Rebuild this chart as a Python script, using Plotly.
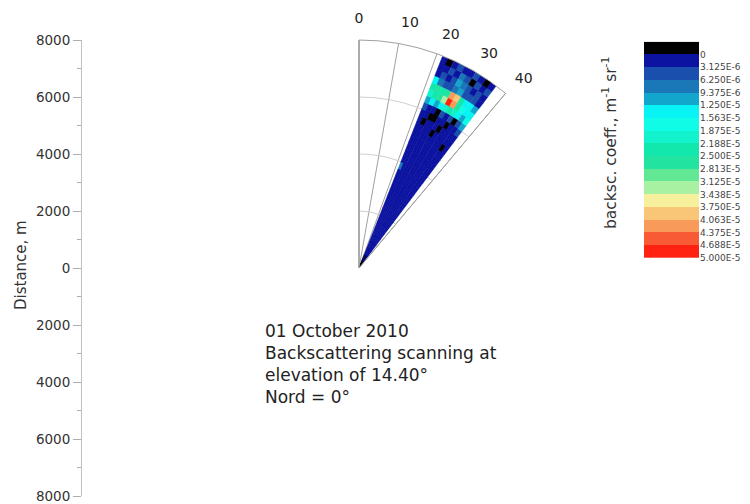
import plotly.graph_objects as go

# the page body adds an 8px margin; the figure is sized so that it fills the window
PAGE_W, PAGE_H, OFF = 750, 504, 8
W, H = PAGE_W - OFF, PAGE_H - OFF

# ---------------- data ----------------
# azimuth (deg, North = 0, clockwise) of the scan beams and their angular width
AZIMUTHS = [22.3, 23.8, 25.4, 26.9, 28.5, 30.0, 31.6, 33.1, 34.7, 36.2]
BEAM_WIDTH = 1.55
# range gates (m): start of each gate, gate length
GATE_LEN = 250
GATE_STARTS = [i * GATE_LEN for i in range(32)]

# backscattering coefficient, units of 1e-6 m^-1 sr^-1 ; rows = range gates, cols = azimuths
BACKSC = [
    [-1, -1, -1, -1, -1, -1, -1, -1, -1, -1],
    [-1, 1.5, -1, 1.5, -1, 1.5, -1, 1.5, -1, 1.5],
    [1.5, 1.5, 1.5, 1.5, 1.5, 1.5, 1.5, 1.5, 1.5, 1.5],
    [1.5, 1.5, 1.5, 1.5, 1.5, 1.5, 1.5, 1.5, 1.5, 1.5],
    [1.5, 1.5, 1.5, 1.5, 1.5, 1.5, 1.5, 1.5, 1.5, 1.5],
    [1.5, 1.5, 1.5, 1.5, 1.5, 1.5, 1.5, 1.5, 1.5, 1.5],
    [1.5, 1.5, 1.5, 1.5, 1.5, 1.5, 1.5, 1.5, 1.5, 1.5],
    [1.5, 1.5, 1.5, 1.5, 1.5, 1.5, 1.5, 1.5, 1.5, 1.5],
    [1.5, 1.5, 1.5, 1.5, 1.5, 1.5, 1.5, 1.5, 1.5, 1.5],
    [1.5, 1.5, 1.5, 1.5, 1.5, 1.5, 1.5, 1.5, 1.5, 1.5],
    [1.5, 1.5, 1.5, 1.5, 1.5, 1.5, 1.5, 1.5, 1.5, 1.5],
    [1.5, 1.5, 1.5, 1.5, 1.5, 1.5, 1.5, 1.5, 1.5, 1.5],
    [1.5, 1.5, 1.5, 1.5, 1.5, 1.5, 1.5, 1.5, 1.5, 1.5],
    [1.5, 1.5, 1.5, 1.5, 1.5, 1.5, 1.5, 1.5, 1.5, 1.5],
    [1.5, 1.5, 1.5, 1.5, 1.5, 1.5, 1.5, 1.5, 1.5, 1.5],
    [8, 1.5, 1.5, 1.5, 1.5, 1.5, 1.5, 1.5, 1.5, 1.5],
    [1.5, 1.5, 1.5, 1.5, 1.5, 1.5, 1.5, 1.5, 1.5, 1.5],
    [1.5, 1.5, 1.5, 1.5, 1.5, 1.5, 1.5, 1.5, 1.5, 1.5],
    [1.5, 1.5, 1.5, 1.5, 1.5, 1.5, 1.5, 1.5, 1.5, 1.5],
    [1.5, 1.5, 1.5, 1.5, 1.5, 1.5, 1.5, 1.5, 1.5, 1.5],
    [1.5, 1.5, 1.5, 1.5, 1.5, 1.5, 1.5, 1.5, -1, 1.5],
    [1.5, 1.5, 1.5, 1.5, -1, 1.5, 1.5, 1.5, 1.5, 1.5],
    [1.5, -1, 1.5, 1.5, 1.5, -1, 1.5, 1.5, 1.5, 1.5],
    [1.5, 1.5, -1, -1, 1.5, 1.5, -1, 1.5, 1.5, 4],
    [4, 1.5, 1.5, -1, 4, 1.5, 4, -1, 4, 11],
    [10, 13, 11, 14, 20, 24, 19, 13, 12, 17],
    [19, 23, 25, 34, 48, 41, 27, 17, 15, 14],
    [24, 27, 22, 28, 42, 38, 22, 15, 13, 11],
    [13, 9, 6, 4, 7, 10, 6, 4, 4, 1.5],
    [1.5, 4, 1.5, 4, 11, 8, 4, 1.5, 4, 1.5],
    [1.5, 1.5, 4, 1.5, 7, 4, -1, 4, 1.5, 4],
    [1.5, -1, 1.5, 4, 1.5, 1.5, 4, 1.5, -1, 1.5],
]

# colour levels (boundaries, 1e-6 units) and their labels
LEVEL_STEP = 3.125
LEVEL_MIN = -3.125
LEVEL_MAX = 50.0
LEVEL_TICKS = [0, 3.125, 6.25, 9.375, 12.5, 15.625, 18.75, 21.875, 25.0, 28.125,
               31.25, 34.375, 37.5, 40.625, 43.75, 46.875, 50.0]
LEVEL_LABELS = ["0", "3.125E-6", "6.250E-6", "9.375E-6", "1.250E-5", "1.563E-5",
                "1.875E-5", "2.188E-5", "2.500E-5", "2.813E-5", "3.125E-5",
                "3.438E-5", "3.750E-5", "4.063E-5", "4.375E-5", "4.688E-5", "5.000E-5"]
LEVEL_COLORS = ["#000000", "#0b13a0", "#1a4fae", "#1a78b8", "#12a6cc", "#08f4f4",
                "#10fce6", "#12f2cc", "#12e8ac", "#22e4a0", "#62e894", "#a8f0a2",
                "#f6f09c", "#f8c676", "#f89a5a", "#f85a36", "#ff2212"]

AZ_TICKS = [0, 10, 20, 30, 40]
DIST_TICKS = [-8000, -6000, -4000, -2000, 0, 2000, 4000, 6000, 8000]

# ---------------- figure ----------------
n = len(LEVEL_COLORS)
cscale = []
for i, c in enumerate(LEVEL_COLORS):
    cscale.append([i / n, c])
    cscale.append([(i + 1) / n, c])

thetas, bases, lens, vals = [], [], [], []
for gi, g0 in enumerate(GATE_STARTS):
    for ai, az in enumerate(AZIMUTHS):
        thetas.append(az)
        bases.append(g0)
        lens.append(GATE_LEN)
        vals.append(BACKSC[gi][ai])

fig = go.Figure()
fig.add_trace(go.Barpolar(
    theta=thetas, r=lens, base=bases, width=[BEAM_WIDTH] * len(thetas),
    marker=dict(color=vals, colorscale=cscale, cmin=LEVEL_MIN, cmax=LEVEL_MAX,
                showscale=False,
                line=dict(width=0.6, color=vals, colorscale=cscale,
                          cmin=LEVEL_MIN, cmax=LEVEL_MAX)),
    hoverinfo="skip", showlegend=False,
))

# dummy trace to hold the distance axis
fig.add_trace(go.Scatter(x=[None], y=[None], xaxis="x", yaxis="y",
                         showlegend=False, hoverinfo="skip"))

# colour bar drawn as a heatmap
centers = [LEVEL_MIN + LEVEL_STEP * (i + 0.5) for i in range(n)]
fig.add_trace(go.Heatmap(
    z=[[c] for c in centers], y=centers, x=[0],
    colorscale=cscale, zmin=LEVEL_MIN, zmax=LEVEL_MAX, showscale=False,
    xaxis="x2", yaxis="y2", hoverinfo="skip",
))

font = "DejaVu Sans, Arial, sans-serif"


def px_x(p):
    return (p - OFF) / W


def px_y(p):
    return 1 - (p - OFF) / H


fig.update_layout(
    width=W, height=H,
    margin=dict(l=0, r=0, t=0, b=0, autoexpand=False),
    paper_bgcolor="white", plot_bgcolor="white",
    font=dict(family=font, color="#222"),
    polar=dict(
        domain=dict(x=[px_x(359), px_x(505.6)], y=[px_y(268), px_y(40)]),
        sector=[50, 90],
        barmode="overlay",
        bgcolor="white",
        angularaxis=dict(rotation=90, direction="clockwise",
                         tickvals=AZ_TICKS, ticktext=[str(t) for t in AZ_TICKS],
                         ticks="outside", ticklen=11, tickcolor="rgba(0,0,0,0)",
                         showgrid=True, gridcolor="#a0a0a0", gridwidth=1,
                         showline=True, linecolor="#a0a0a0", linewidth=1,
                         tickfont=dict(size=14, color="#222", family=font)),
        radialaxis=dict(range=[0, 8000], tickvals=[2000, 4000, 6000],
                        showticklabels=False, ticks="",
                        gridcolor="#cfcfcf", gridwidth=1,
                        showline=True, linecolor="#a0a0a0", linewidth=1,
                        angle=90),
    ),
    xaxis=dict(domain=[px_x(82), px_x(150)], visible=False, range=[0, 1],
               automargin=False),
    yaxis=dict(domain=[px_y(496), px_y(40)], range=[-8000, 8000],
               tickvals=DIST_TICKS, ticktext=[str(abs(t)) for t in DIST_TICKS],
               ticks="outside", ticklen=8, tickcolor="#b0b0b0",
               minor=dict(dtick=1000, ticks="outside", ticklen=4, tickcolor="#b0b0b0"),
               showline=True, linecolor="#c0c0c0", linewidth=1,
               showgrid=False, zeroline=False, automargin=False,
               tickfont=dict(size=13.5, color="#333", family=font)),
    xaxis2=dict(domain=[px_x(644), px_x(699)], visible=False, automargin=False),
    yaxis2=dict(domain=[px_y(258), px_y(41.7)], anchor="x2",
                range=[LEVEL_MAX, LEVEL_MIN], side="right",
                tickvals=LEVEL_TICKS, ticktext=LEVEL_LABELS,
                ticks="", showgrid=False, zeroline=False, showline=False,
                automargin=False,
                tickfont=dict(size=9, color="#444", family=font)),
    annotations=[
        dict(text="Distance, m", x=px_x(21), y=px_y(265), xref="paper", yref="paper",
             xanchor="center", yanchor="middle",
             textangle=-90, showarrow=False, font=dict(size=15, color="#333")),
        dict(text="backsc. coeff., m<sup>-1</sup> sr<sup>-1</sup>",
             x=px_x(609), y=px_y(143), xref="paper", yref="paper",
             xanchor="center", yanchor="middle",
             textangle=-90, showarrow=False, font=dict(size=15.5, color="#333")),
        dict(text="01 October 2010<br>Backscattering scanning at<br>elevation of 14.40°<br>Nord = 0°",
             x=px_x(263), y=px_y(319), xref="paper", yref="paper",
             xanchor="left", yanchor="top", align="left", showarrow=False,
             font=dict(size=17, color="#222")),
    ],
)

fig.write_html("out.html")
